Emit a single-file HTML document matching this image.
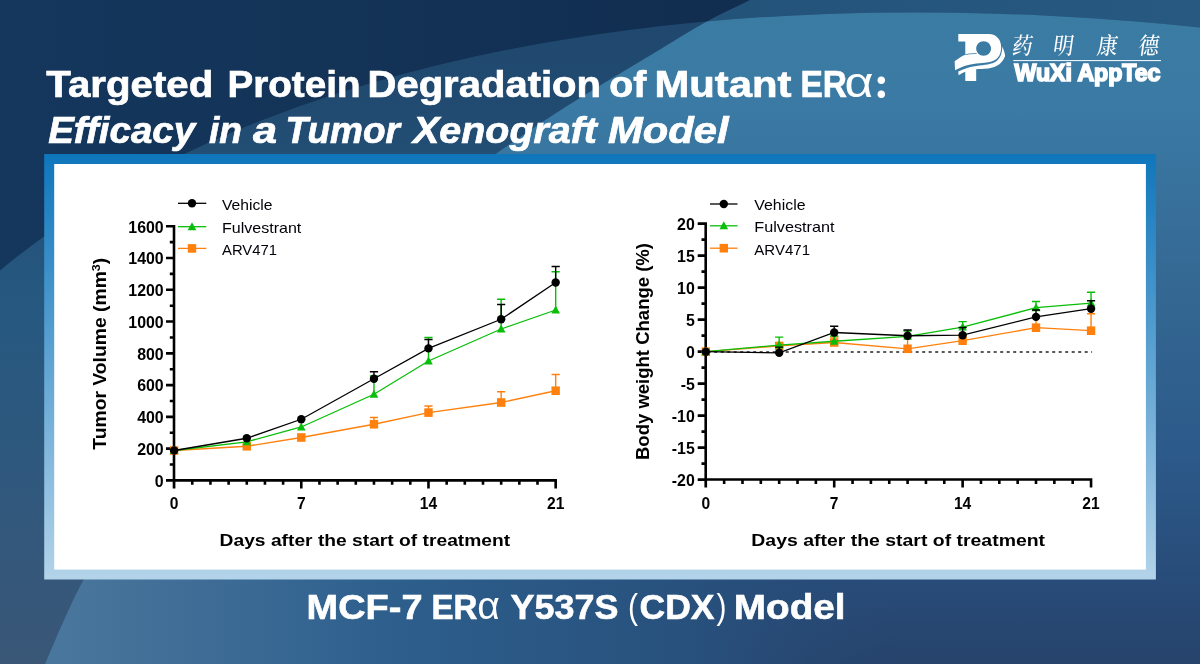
<!DOCTYPE html>
<html lang="en">
<head>
<meta charset="utf-8">
<title>Targeted Protein Degradation of Mutant ERα</title>
<style>
html,body{margin:0;padding:0;}
body{width:1200px;height:664px;overflow:hidden;background:#15355c;font-family:"Liberation Sans","Noto Sans CJK SC",sans-serif;}
#stage{position:relative;width:1200px;height:664px;overflow:hidden;}
#stage svg{position:absolute;left:0;top:0;display:block;}
text{font-family:"Liberation Sans","Noto Sans CJK SC",sans-serif;}
.hd{font-weight:bold;fill:#fff;}
.cb{font-weight:bold;fill:#000;}
.cr{font-weight:normal;fill:#000008;}
</style>
</head>
<body>
<div id="stage">
<svg id="art" width="1200" height="664" viewBox="0 0 1200 664">
<defs>
  <linearGradient id="gDark" gradientUnits="userSpaceOnUse" x1="0" y1="0" x2="700" y2="0">
    <stop offset="0" stop-color="#15375d"/>
    <stop offset="1" stop-color="#112e50"/>
  </linearGradient>
  <linearGradient id="gBand" gradientUnits="userSpaceOnUse" x1="740" y1="0" x2="1200" y2="0">
    <stop offset="0" stop-color="#24537a"/>
    <stop offset="1" stop-color="#275981"/>
  </linearGradient>
  <linearGradient id="gMid" gradientUnits="userSpaceOnUse" x1="0" y1="0" x2="0" y2="664">
    <stop offset="0" stop-color="#20486e"/>
    <stop offset="0.15" stop-color="#214a70"/>
    <stop offset="0.45" stop-color="#265880"/>
    <stop offset="0.68" stop-color="#2e587e"/>
    <stop offset="1" stop-color="#3a5777"/>
  </linearGradient>
  <linearGradient id="gLight" gradientUnits="userSpaceOnUse" x1="0" y1="0" x2="0" y2="664">
    <stop offset="0" stop-color="#3b7ca3"/>
    <stop offset="0.16" stop-color="#3a7aa4"/>
    <stop offset="0.45" stop-color="#346792"/>
    <stop offset="0.68" stop-color="#2c5a8a"/>
    <stop offset="0.885" stop-color="#284b78"/>
    <stop offset="1" stop-color="#26436b"/>
  </linearGradient>
  <linearGradient id="gBottom" gradientUnits="userSpaceOnUse" x1="0" y1="0" x2="1200" y2="0">
    <stop offset="0.05" stop-color="#49769c"/>
    <stop offset="0.083" stop-color="#467399"/>
    <stop offset="0.208" stop-color="#3a6994"/>
    <stop offset="0.333" stop-color="#2d5e8c"/>
    <stop offset="0.583" stop-color="#28507c"/>
    <stop offset="0.75" stop-color="#274a75" stop-opacity="0"/>
  </linearGradient>
  <linearGradient id="gFrame" x1="0" y1="0" x2="0" y2="1">
    <stop offset="0" stop-color="#0f76bc"/>
    <stop offset="1" stop-color="#b3d3e9"/>
  </linearGradient>
  <clipPath id="clipE1"><ellipse cx="1695.9" cy="1228.8" rx="2010.5" ry="1062" transform="rotate(20.33 1695.9 1228.8)"/></clipPath>
  <clipPath id="clipC2"><path d="M795.0 -22.0 C787.5 -18.3 765.0 -7.4 750.0 0.0 C735.0 7.4 720.8 13.8 705.0 22.5 C689.2 31.2 671.7 42.5 655.0 52.5 C638.3 62.5 621.7 72.3 605.0 82.5 C588.3 92.7 571.7 102.9 555.0 113.8 C538.3 124.6 521.7 135.8 505.0 147.5 C488.3 159.2 472.5 170.2 455.0 184.0 C437.5 197.8 420.8 211.5 400.0 230.0 C379.2 248.5 353.3 272.2 330.0 295.0 C306.7 317.8 283.3 342.0 260.0 367.0 C236.7 392.0 210.8 420.8 190.0 445.0 C169.2 469.2 149.2 494.5 135.0 512.0 C120.8 529.5 113.5 538.9 105.0 550.0 C96.5 561.1 91.1 566.8 84.3 578.5 C77.5 590.2 70.5 605.8 64.0 620.0 C57.5 634.2 49.7 653.0 45.0 664.0 C40.3 675.0 37.5 682.3 36.0 686.0 L1300 686 L1300 -22 Z"/></clipPath>
</defs>
<!-- BACKGROUND -->
<g id="bg">
  <rect x="0" y="0" width="1200" height="664" fill="url(#gDark)"/>
  <path d="M795.0 -22.0 C787.5 -18.3 765.0 -7.4 750.0 0.0 C735.0 7.4 720.8 13.8 705.0 22.5 C689.2 31.2 671.7 42.5 655.0 52.5 C638.3 62.5 621.7 72.3 605.0 82.5 C588.3 92.7 571.7 102.9 555.0 113.8 C538.3 124.6 521.7 135.8 505.0 147.5 C488.3 159.2 472.5 170.2 455.0 184.0 C437.5 197.8 420.8 211.5 400.0 230.0 C379.2 248.5 353.3 272.2 330.0 295.0 C306.7 317.8 283.3 342.0 260.0 367.0 C236.7 392.0 210.8 420.8 190.0 445.0 C169.2 469.2 149.2 494.5 135.0 512.0 C120.8 529.5 113.5 538.9 105.0 550.0 C96.5 561.1 91.1 566.8 84.3 578.5 C77.5 590.2 70.5 605.8 64.0 620.0 C57.5 634.2 49.7 653.0 45.0 664.0 C40.3 675.0 37.5 682.3 36.0 686.0 L1300 686 L1300 -22 Z" fill="url(#gBand)"/>
  <rect x="0" y="0" width="1200" height="664" fill="url(#gMid)" clip-path="url(#clipE1)"/>
  <g clip-path="url(#clipE1)">
    <path d="M795.0 -22.0 C787.5 -18.3 765.0 -7.4 750.0 0.0 C735.0 7.4 720.8 13.8 705.0 22.5 C689.2 31.2 671.7 42.5 655.0 52.5 C638.3 62.5 621.7 72.3 605.0 82.5 C588.3 92.7 571.7 102.9 555.0 113.8 C538.3 124.6 521.7 135.8 505.0 147.5 C488.3 159.2 472.5 170.2 455.0 184.0 C437.5 197.8 420.8 211.5 400.0 230.0 C379.2 248.5 353.3 272.2 330.0 295.0 C306.7 317.8 283.3 342.0 260.0 367.0 C236.7 392.0 210.8 420.8 190.0 445.0 C169.2 469.2 149.2 494.5 135.0 512.0 C120.8 529.5 113.5 538.9 105.0 550.0 C96.5 561.1 91.1 566.8 84.3 578.5 C77.5 590.2 70.5 605.8 64.0 620.0 C57.5 634.2 49.7 653.0 45.0 664.0 C40.3 675.0 37.5 682.3 36.0 686.0 L1300 686 L1300 -22 Z" fill="url(#gLight)"/>
    <g clip-path="url(#clipC2)">
      <rect x="0" y="572" width="1200" height="92" fill="url(#gBottom)"/>
    </g>
  </g>
</g>
<!-- PANEL -->
<g id="panel">
  <rect x="44.2" y="154" width="1111.7" height="425.5" fill="url(#gFrame)"/>
  <rect x="54.2" y="164" width="1091.7" height="405.6" fill="#ffffff"/>
</g>
<!-- HEAD -->
<g id="title">
  <text class="hd" y="97.1" font-size="37.8" stroke="#fff" stroke-width="0.7"><tspan x="46.3" textLength="167" lengthAdjust="spacingAndGlyphs">Targeted</tspan> <tspan x="227.5" textLength="133" lengthAdjust="spacingAndGlyphs">Protein</tspan> <tspan x="367.5" textLength="233.5" lengthAdjust="spacingAndGlyphs">Degradation</tspan> <tspan x="609.3" textLength="37" lengthAdjust="spacingAndGlyphs">of</tspan> <tspan x="654.5" textLength="137" lengthAdjust="spacingAndGlyphs">Mutant</tspan> <tspan x="800.5" textLength="46.5" lengthAdjust="spacingAndGlyphs">ER</tspan><tspan x="844.6" textLength="29" lengthAdjust="spacingAndGlyphs" font-weight="normal" stroke="none" font-size="42">α</tspan><tspan x="873.8" dy="0.7" font-size="46.5" stroke="none" style="font-family:'Liberation Serif',serif">:</tspan></text>
  <text class="hd" y="142.7" font-size="37.8" font-style="italic" stroke="#fff" stroke-width="0.7"><tspan x="48.2" textLength="147" lengthAdjust="spacingAndGlyphs">Efficacy</tspan> <tspan x="209" textLength="33" lengthAdjust="spacingAndGlyphs">in</tspan> <tspan x="253" textLength="24" lengthAdjust="spacingAndGlyphs">a</tspan> <tspan x="285.5" textLength="114.5" lengthAdjust="spacingAndGlyphs">Tumor</tspan> <tspan x="413" textLength="184" lengthAdjust="spacingAndGlyphs">Xenograft</tspan> <tspan x="608" textLength="120.7" lengthAdjust="spacingAndGlyphs">Model</tspan></text>
</g>
<g id="caption">
  <text class="hd" y="618.9" font-size="35.3" stroke="#fff" stroke-width="0.6"><tspan x="306.5" textLength="116" lengthAdjust="spacingAndGlyphs">MCF-7</tspan> <tspan x="431.5" textLength="46" lengthAdjust="spacingAndGlyphs">ER</tspan><tspan x="477.2" textLength="22.6" lengthAdjust="spacingAndGlyphs" font-weight="normal" stroke="none" font-size="38.5">α</tspan> <tspan x="510.5" textLength="108" lengthAdjust="spacingAndGlyphs">Y537S</tspan> <tspan x="628" textLength="10" lengthAdjust="spacingAndGlyphs" font-weight="normal" stroke="none">(</tspan><tspan x="639.5" textLength="75" lengthAdjust="spacingAndGlyphs">CDX</tspan><tspan x="716.5" textLength="10" lengthAdjust="spacingAndGlyphs" font-weight="normal" stroke="none">)</tspan> <tspan x="733.8" textLength="111.8" lengthAdjust="spacingAndGlyphs">Model</tspan></text>
</g>
<g id="logo" fill="#ffffff">
  <g transform="translate(950 28) scale(0.08731)">
    <path fill-rule="evenodd" d="M95 68 L440 68 C540 68 590 140 586 235 C581 318 540 378 440 392 C350 403 250 408 175 432 C120 452 85 468 58 484 L53 382 C90 352 130 325 175 306 L175 155 L95 155 Z M385 152 C338 152 300 189 300 235 C300 281 338 318 385 318 C432 318 470 281 470 235 C470 189 432 152 385 152 Z"/>
    <path d="M175 300 C215 292 260 288 305 290 L305 299 C260 297 215 301 175 310 Z" fill="#3a7aa4"/>
    <path d="M100 542 C96 522 95 510 95 497 C150 474 200 448 300 434 C400 421 475 420 535 378 C580 338 600 282 598 213 C616 250 629 290 631 322 C602 402 540 452 440 464 C380 470 330 470 300 472 L300 606 L175 606 L175 502 C150 512 125 527 100 542 Z"/>
  </g>
  <g transform="translate(0 57) scale(1 1.14) skewX(-9)"><text style="font-family:'Liberation Serif','Noto Serif CJK SC',serif;font-weight:500" font-size="20.5" y="-2.4"><tspan x="1011">药</tspan><tspan x="1052">明</tspan><tspan x="1096">康</tspan><tspan x="1137.3">德</tspan></text></g>
  <rect x="1013.3" y="60.1" width="147.7" height="1"/>
  <text x="1014.6" y="81.3" font-size="23.4" font-weight="bold" textLength="145.8" lengthAdjust="spacingAndGlyphs" stroke="#ffffff" stroke-width="1.7" stroke-linejoin="miter">WuXi AppTec</text>
</g>
<!-- /HEAD -->
<!-- CHARTS -->
<g id="chartL">
<path d="M174 224.96 V488.4 M166 480.4 H556.97 M166 480.4 H174 M166 448.63 H174 M166 416.86 H174 M166 385.1 H174 M166 353.33 H174 M166 321.56 H174 M166 289.79 H174 M166 258.02 H174 M166 226.26 H174 M169.8 464.52 H174 M169.8 432.75 H174 M169.8 400.98 H174 M169.8 369.21 H174 M169.8 337.44 H174 M169.8 305.68 H174 M169.8 273.91 H174 M169.8 242.14 H174 M174.1 480.4 V488.4 M301.29 480.4 V488.4 M428.48 480.4 V488.4 M555.67 480.4 V488.4 M192.27 480.4 V484.8 M210.44 480.4 V484.8 M228.61 480.4 V484.8 M246.78 480.4 V484.8 M264.95 480.4 V484.8 M283.12 480.4 V484.8 M319.46 480.4 V484.8 M337.63 480.4 V484.8 M355.8 480.4 V484.8 M373.97 480.4 V484.8 M392.14 480.4 V484.8 M410.31 480.4 V484.8 M446.65 480.4 V484.8 M464.82 480.4 V484.8 M482.99 480.4 V484.8 M501.16 480.4 V484.8 M519.33 480.4 V484.8 M537.5 480.4 V484.8" fill="none" stroke="#000000" stroke-width="2.6"/>
<text class="cb" x="163.7" y="486.7" font-size="15.9" text-anchor="end">0</text>
<text class="cb" x="163.7" y="454.93" font-size="15.9" text-anchor="end">200</text>
<text class="cb" x="163.7" y="423.16" font-size="15.9" text-anchor="end">400</text>
<text class="cb" x="163.7" y="391.4" font-size="15.9" text-anchor="end">600</text>
<text class="cb" x="163.7" y="359.63" font-size="15.9" text-anchor="end">800</text>
<text class="cb" x="163.7" y="327.86" font-size="15.9" text-anchor="end">1000</text>
<text class="cb" x="163.7" y="296.09" font-size="15.9" text-anchor="end">1200</text>
<text class="cb" x="163.7" y="264.32" font-size="15.9" text-anchor="end">1400</text>
<text class="cb" x="163.7" y="232.56" font-size="15.9" text-anchor="end">1600</text>
<text class="cb" x="174.1" y="508.8" font-size="15.6" text-anchor="middle">0</text>
<text class="cb" x="301.29" y="508.8" font-size="15.6" text-anchor="middle">7</text>
<text class="cb" x="428.48" y="508.8" font-size="15.6" text-anchor="middle">14</text>
<text class="cb" x="555.67" y="508.8" font-size="15.6" text-anchor="middle">21</text>
<text class="cb" x="219.6" y="546" font-size="17.4" textLength="290.6" lengthAdjust="spacingAndGlyphs">Days after the start of treatment</text>
<text class="cb" transform="translate(106.3 449.7) rotate(-90)" font-size="17.6" textLength="192" lengthAdjust="spacingAndGlyphs">Tumor Volume (mm<tspan font-size="11.5" dy="-6">3</tspan><tspan dy="6">)</tspan></text>
<path d="M373.97 424.25 V417.5 M369.87 417.5 H378.07 M428.48 412.6 V406 M424.38 406 H432.58 M501.16 402.5 V391.75 M497.06 391.75 H505.26 M555.67 390.75 V374.5 M551.57 374.5 H559.77" fill="none" stroke="#ff800c" stroke-width="1.4"/>
<polyline points="174.1,450.5 246.78,446.25 301.29,437.5 373.97,424.25 428.48,412.6 501.16,402.5 555.67,390.75" fill="none" stroke="#ff800c" stroke-width="1.3"/>
<rect x="169.9" y="446.2" width="8.4" height="8.6" fill="#ff800c"/>
<rect x="242.58" y="441.95" width="8.4" height="8.6" fill="#ff800c"/>
<rect x="297.09" y="433.2" width="8.4" height="8.6" fill="#ff800c"/>
<rect x="369.77" y="419.95" width="8.4" height="8.6" fill="#ff800c"/>
<rect x="424.28" y="408.3" width="8.4" height="8.6" fill="#ff800c"/>
<rect x="496.96" y="398.2" width="8.4" height="8.6" fill="#ff800c"/>
<rect x="551.47" y="386.45" width="8.4" height="8.6" fill="#ff800c"/>
<path d="M373.97 394.25 V376 M369.87 376 H378.07 M428.48 361 V337.5 M424.38 337.5 H432.58 M501.16 329 V299.25 M497.06 299.25 H505.26 M555.67 310 V271.75 M551.57 271.75 H559.77" fill="none" stroke="#08be08" stroke-width="1.4"/>
<polyline points="174.1,450.5 246.78,441.8 301.29,427 373.97,394.25 428.48,361 501.16,329 555.67,310" fill="none" stroke="#08be08" stroke-width="1.3"/>
<path d="M174.1 446 L178.4 454 L169.8 454 Z" fill="#08be08"/>
<path d="M246.78 437.3 L251.08 445.3 L242.48 445.3 Z" fill="#08be08"/>
<path d="M301.29 422.5 L305.59 430.5 L296.99 430.5 Z" fill="#08be08"/>
<path d="M373.97 389.75 L378.27 397.75 L369.67 397.75 Z" fill="#08be08"/>
<path d="M428.48 356.5 L432.78 364.5 L424.18 364.5 Z" fill="#08be08"/>
<path d="M501.16 324.5 L505.46 332.5 L496.86 332.5 Z" fill="#08be08"/>
<path d="M555.67 305.5 L559.97 313.5 L551.37 313.5 Z" fill="#08be08"/>
<path d="M373.97 378.75 V371.75 M369.87 371.75 H378.07 M428.48 348.4 V339.5 M424.38 339.5 H432.58 M501.16 319.25 V304.5 M497.06 304.5 H505.26 M555.67 282.5 V266.5 M551.57 266.5 H559.77" fill="none" stroke="#000000" stroke-width="1.4"/>
<polyline points="174.1,450.5 246.78,438.25 301.29,419.25 373.97,378.75 428.48,348.4 501.16,319.25 555.67,282.5" fill="none" stroke="#000000" stroke-width="1.3"/>
<circle cx="174.1" cy="450.5" r="4.2" fill="#000000"/>
<circle cx="246.78" cy="438.25" r="4.2" fill="#000000"/>
<circle cx="301.29" cy="419.25" r="4.2" fill="#000000"/>
<circle cx="373.97" cy="378.75" r="4.2" fill="#000000"/>
<circle cx="428.48" cy="348.4" r="4.2" fill="#000000"/>
<circle cx="501.16" cy="319.25" r="4.2" fill="#000000"/>
<circle cx="555.67" cy="282.5" r="4.2" fill="#000000"/>
<path d="M178 203.3 H206.3" stroke="#000000" stroke-width="1.3" fill="none"/>
<circle cx="192" cy="203.3" r="4.2" fill="#000000"/>
<text class="cr" x="222" y="209.5" font-size="14.8" textLength="50.5" lengthAdjust="spacingAndGlyphs">Vehicle</text>
<path d="M178 226.7 H206.3" stroke="#08be08" stroke-width="1.3" fill="none"/>
<path d="M192 222.2 L196.3 230.2 L187.7 230.2 Z" fill="#08be08"/>
<text class="cr" x="222" y="233" font-size="14.8" textLength="79.3" lengthAdjust="spacingAndGlyphs">Fulvestrant</text>
<path d="M178 248.4 H206.3" stroke="#ff800c" stroke-width="1.3" fill="none"/>
<rect x="187.8" y="244.1" width="8.4" height="8.6" fill="#ff800c"/>
<text class="cr" x="222" y="254.5" font-size="14.8" textLength="55" lengthAdjust="spacingAndGlyphs">ARV471</text>
</g>
<g id="chartR">
<path d="M705.7 222.3 V487.5 M697.7 479.5 H1092.35 M697.7 479.6 H705.7 M697.7 447.6 H705.7 M697.7 415.6 H705.7 M697.7 383.6 H705.7 M697.7 351.6 H705.7 M697.7 319.6 H705.7 M697.7 287.6 H705.7 M697.7 255.6 H705.7 M697.7 223.6 H705.7 M701.5 463.6 H705.7 M701.5 431.6 H705.7 M701.5 399.6 H705.7 M701.5 367.6 H705.7 M701.5 335.6 H705.7 M701.5 303.6 H705.7 M701.5 271.6 H705.7 M701.5 239.6 H705.7 M705.8 479.5 V487.5 M834.21 479.5 V487.5 M962.63 479.5 V487.5 M1091.05 479.5 V487.5 M724.14 479.5 V483.9 M742.49 479.5 V483.9 M760.83 479.5 V483.9 M779.18 479.5 V483.9 M797.52 479.5 V483.9 M815.87 479.5 V483.9 M852.56 479.5 V483.9 M870.9 479.5 V483.9 M889.25 479.5 V483.9 M907.59 479.5 V483.9 M925.94 479.5 V483.9 M944.28 479.5 V483.9 M980.97 479.5 V483.9 M999.32 479.5 V483.9 M1017.66 479.5 V483.9 M1036.01 479.5 V483.9 M1054.36 479.5 V483.9 M1072.7 479.5 V483.9" fill="none" stroke="#000000" stroke-width="2.6"/>
<path d="M707.7 351.9 H1092.05" stroke="#222" stroke-width="1.5" stroke-dasharray="3 3.5" fill="none"/>
<text class="cb" x="694.8" y="485.9" font-size="15.9" text-anchor="end">-20</text>
<text class="cb" x="694.8" y="453.9" font-size="15.9" text-anchor="end">-15</text>
<text class="cb" x="694.8" y="421.9" font-size="15.9" text-anchor="end">-10</text>
<text class="cb" x="694.8" y="389.9" font-size="15.9" text-anchor="end">-5</text>
<text class="cb" x="694.8" y="357.9" font-size="15.9" text-anchor="end">0</text>
<text class="cb" x="694.8" y="325.9" font-size="15.9" text-anchor="end">5</text>
<text class="cb" x="694.8" y="293.9" font-size="15.9" text-anchor="end">10</text>
<text class="cb" x="694.8" y="261.9" font-size="15.9" text-anchor="end">15</text>
<text class="cb" x="694.8" y="229.9" font-size="15.9" text-anchor="end">20</text>
<text class="cb" x="705.8" y="508.6" font-size="15.6" text-anchor="middle">0</text>
<text class="cb" x="834.21" y="508.6" font-size="15.6" text-anchor="middle">7</text>
<text class="cb" x="962.63" y="508.6" font-size="15.6" text-anchor="middle">14</text>
<text class="cb" x="1091.05" y="508.6" font-size="15.6" text-anchor="middle">21</text>
<text class="cb" x="751.3" y="546" font-size="17.4" textLength="293.8" lengthAdjust="spacingAndGlyphs">Days after the start of treatment</text>
<text class="cb" transform="translate(649 460) rotate(-90)" font-size="17.6" textLength="217" lengthAdjust="spacingAndGlyphs">Body weight Change (%)</text>
<path d="M779.18 345.9 V343.5 M775.08 343.5 H783.28 M834.21 342.5 V337 M830.11 337 H838.31 M907.59 348.8 V337.5 M903.49 337.5 H911.69 M962.63 340.7 V335 M958.53 335 H966.73 M1036.01 327.7 V317 M1031.91 317 H1040.11 M1091.05 330.7 V313.7 M1086.95 313.7 H1095.14" fill="none" stroke="#ff800c" stroke-width="1.4"/>
<polyline points="705.8,351.7 779.18,345.9 834.21,342.5 907.59,348.8 962.63,340.7 1036.01,327.7 1091.05,330.7" fill="none" stroke="#ff800c" stroke-width="1.3"/>
<rect x="701.6" y="347.4" width="8.4" height="8.6" fill="#ff800c"/>
<rect x="774.98" y="341.6" width="8.4" height="8.6" fill="#ff800c"/>
<rect x="830.01" y="338.2" width="8.4" height="8.6" fill="#ff800c"/>
<rect x="903.39" y="344.5" width="8.4" height="8.6" fill="#ff800c"/>
<rect x="958.43" y="336.4" width="8.4" height="8.6" fill="#ff800c"/>
<rect x="1031.81" y="323.4" width="8.4" height="8.6" fill="#ff800c"/>
<rect x="1086.85" y="326.4" width="8.4" height="8.6" fill="#ff800c"/>
<path d="M779.18 345.1 V337.1 M775.08 337.1 H783.28 M834.21 341.25 V336 M830.11 336 H838.31 M907.59 336.3 V331 M903.49 331 H911.69 M962.63 327.1 V321.6 M958.53 321.6 H966.73 M1036.01 307.7 V301.5 M1031.91 301.5 H1040.11 M1091.05 303.1 V292.3 M1086.95 292.3 H1095.14" fill="none" stroke="#08be08" stroke-width="1.4"/>
<polyline points="705.8,351.7 779.18,345.1 834.21,341.25 907.59,336.3 962.63,327.1 1036.01,307.7 1091.05,303.1" fill="none" stroke="#08be08" stroke-width="1.3"/>
<path d="M705.8 347.2 L710.1 355.2 L701.5 355.2 Z" fill="#08be08"/>
<path d="M779.18 340.6 L783.48 348.6 L774.88 348.6 Z" fill="#08be08"/>
<path d="M834.21 336.75 L838.51 344.75 L829.91 344.75 Z" fill="#08be08"/>
<path d="M907.59 331.8 L911.89 339.8 L903.29 339.8 Z" fill="#08be08"/>
<path d="M962.63 322.6 L966.93 330.6 L958.33 330.6 Z" fill="#08be08"/>
<path d="M1036.01 303.2 L1040.31 311.2 L1031.71 311.2 Z" fill="#08be08"/>
<path d="M1091.05 298.6 L1095.35 306.6 L1086.75 306.6 Z" fill="#08be08"/>
<path d="M779.18 352.8 V347.1 M775.08 347.1 H783.28 M834.21 332.5 V326.25 M830.11 326.25 H838.31 M907.59 335.75 V330 M903.49 330 H911.69 M962.63 335.2 V327.5 M958.53 327.5 H966.73 M1036.01 316.9 V310 M1031.91 310 H1040.11 M1091.05 308.7 V300.7 M1086.95 300.7 H1095.14" fill="none" stroke="#000000" stroke-width="1.4"/>
<polyline points="705.8,351.7 779.18,352.8 834.21,332.5 907.59,335.75 962.63,335.2 1036.01,316.9 1091.05,308.7" fill="none" stroke="#000000" stroke-width="1.3"/>
<circle cx="705.8" cy="351.7" r="4.2" fill="#000000"/>
<circle cx="779.18" cy="352.8" r="4.2" fill="#000000"/>
<circle cx="834.21" cy="332.5" r="4.2" fill="#000000"/>
<circle cx="907.59" cy="335.75" r="4.2" fill="#000000"/>
<circle cx="962.63" cy="335.2" r="4.2" fill="#000000"/>
<circle cx="1036.01" cy="316.9" r="4.2" fill="#000000"/>
<circle cx="1091.05" cy="308.7" r="4.2" fill="#000000"/>
<path d="M710 204 H737.5" stroke="#000000" stroke-width="1.3" fill="none"/>
<circle cx="723.8" cy="204" r="4.2" fill="#000000"/>
<text class="cr" x="754.3" y="210" font-size="14.8" textLength="51.2" lengthAdjust="spacingAndGlyphs">Vehicle</text>
<path d="M710 225.8 H737.5" stroke="#08be08" stroke-width="1.3" fill="none"/>
<path d="M723.8 221.3 L728.1 229.3 L719.5 229.3 Z" fill="#08be08"/>
<text class="cr" x="754.3" y="232" font-size="14.8" textLength="80.2" lengthAdjust="spacingAndGlyphs">Fulvestrant</text>
<path d="M710 248.2 H737.5" stroke="#ff800c" stroke-width="1.3" fill="none"/>
<rect x="719.6" y="243.9" width="8.4" height="8.6" fill="#ff800c"/>
<text class="cr" x="754.3" y="254.5" font-size="14.8" textLength="55.7" lengthAdjust="spacingAndGlyphs">ARV471</text>
</g>
<!-- /CHARTS -->
</svg>
</div>
</body>
</html>
